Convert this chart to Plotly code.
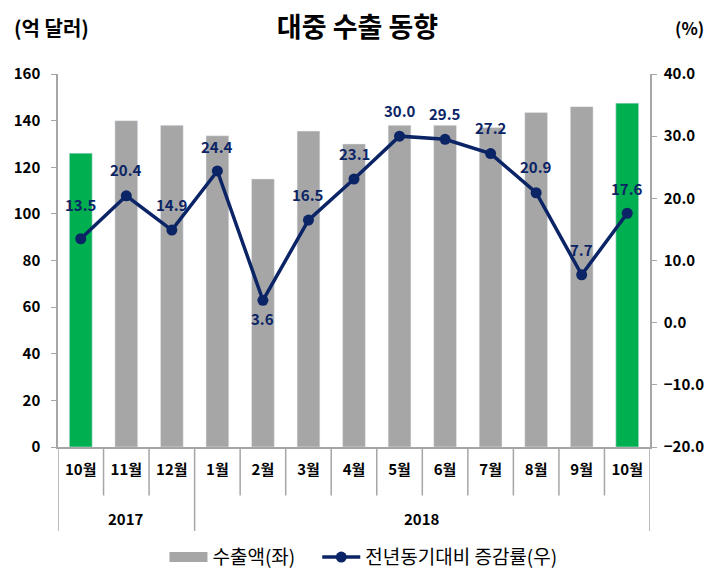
import plotly.graph_objects as go

years = ["2017", "2017", "2017", "2018", "2018", "2018", "2018", "2018", "2018", "2018", "2018", "2018", "2018"]
months = ["10월", "11월", "12월", "1월", "2월", "3월", "4월", "5월", "6월", "7월", "8월", "9월", "10월"]
exports = [126, 140, 138, 133.5, 115, 135.5, 130, 138, 138, 137, 143.5, 146, 147.5]
growth = [13.5, 20.4, 14.9, 24.4, 3.6, 16.5, 23.1, 30.0, 29.5, 27.2, 20.9, 7.7, 17.6]
highlight = [True, False, False, False, False, False, False, False, False, False, False, False, True]
label_shift = [34, 26, 26, 24, -18, 26, 26, 26, 26, 26, 26, 25, 25]

FONT = "Noto Sans CJK KR"
GRAY = "#A6A6A6"
GREEN = "#00B050"
NAVY = "#0B2466"
AXIS = "#A6A6A6"

ids = [f"{y}-{m}" for y, m in zip(years, months)]
green_vals = [v if h else None for v, h in zip(exports, highlight)]

fig = go.Figure()
fig.add_trace(go.Bar(x=ids, y=exports, name="수출액(좌)", marker_color=GRAY,
                     width=0.5, showlegend=False))
fig.add_trace(go.Bar(x=ids, y=green_vals, name="highlight", marker_color=GREEN,
                     width=0.5, showlegend=False))
# legend proxy for the bar series (wide grey swatch)
fig.add_trace(go.Scatter(x=[None], y=[None], mode="lines", name="수출액(좌)\u00a0\u00a0\u00a0\u00a0",
                         line=dict(color=GRAY, width=10)))
fig.add_trace(go.Scatter(x=ids, y=growth, yaxis="y2", name="전년동기대비 증감률(우)",
                         mode="lines+markers",
                         line=dict(color=NAVY, width=3.5),
                         marker=dict(color=NAVY, size=11)))

annotations = []
for xi, v, s in zip(ids, growth, label_shift):
    annotations.append(dict(x=xi, y=v, xref="x", yref="y2", text=f"{v:.1f}",
                            showarrow=False, yshift=s,
                            font=dict(family=FONT, size=15, color=NAVY, weight="bold")))

# year group labels and dividers
shapes = []
n = len(ids)
for i in range(n + 1):
    is_group = i == 0 or i == n or years[i] != years[i - 1]
    shapes.append(dict(type="line", xref="x", yref="paper",
                       x0=i - 0.5, x1=i - 0.5, y0=0, y1=-0.225 if is_group else -0.13,
                       line=dict(color=AXIS, width=1.5)))
groups = []
for i, y in enumerate(years):
    if not groups or groups[-1][0] != y:
        groups.append([y, i, i])
    else:
        groups[-1][2] = i
for y, a, b in groups:
    annotations.append(dict(x=(a + b) / 2, y=-0.193, xref="x", yref="paper", text=y,
                            showarrow=False, yanchor="middle",
                            font=dict(family=FONT, size=15, color="black", weight="bold")))

annotations += [
    dict(text="(억 달러)", xref="paper", yref="paper", x=-0.077, y=1.126,
         xanchor="left", yanchor="middle", showarrow=False,
         font=dict(family=FONT, size=20, color="black", weight="bold")),
    dict(text="(%)", xref="paper", yref="paper", x=1.095, y=1.126,
         xanchor="right", yanchor="middle", showarrow=False,
         font=dict(family=FONT, size=17, color="black", weight="bold")),
]

fig.update_layout(
    width=715, height=581,
    margin=dict(l=58, r=65, t=74, b=134, autoexpand=False),
    plot_bgcolor="white", paper_bgcolor="white",
    barmode="overlay",
    font=dict(family=FONT, size=15, color="black"),
    title=dict(text="대중 수출 동향", x=0.5, xanchor="center", y=0.952, yanchor="middle",
               font=dict(family=FONT, size=27, color="black", weight="bold")),
    xaxis=dict(type="category", tickvals=ids, ticktext=months, automargin=False,
               range=[-0.5, n - 0.5],
               showline=True, linecolor=AXIS, linewidth=1.5, ticks="",
               ticklabelstandoff=8,
               tickfont=dict(family=FONT, size=15, color="black", weight="bold"),
               showgrid=False),
    yaxis=dict(range=[0, 160], dtick=20, showline=True, linecolor=AXIS, linewidth=1.5,
               automargin=False,
               ticks="outside", ticklen=5, tickcolor=AXIS, showgrid=False, zeroline=False,
               ticklabelstandoff=8,
               tickfont=dict(family=FONT, size=15, color="black", weight="bold")),
    yaxis2=dict(range=[-20, 40], dtick=10, overlaying="y", side="right", tickformat=".1f",
                automargin=False,
                showline=True, linecolor=AXIS, linewidth=1.5, ticks="outside", ticklen=5,
                tickcolor=AXIS, showgrid=False, zeroline=False, ticklabelstandoff=4,
                tickfont=dict(family=FONT, size=15, color="black", weight="bold")),
    legend=dict(orientation="h", x=0.516, xanchor="center",
                yref="container", y=0.041, yanchor="middle",
                itemwidth=38,
                font=dict(family=FONT, size=19, color="black")),
    annotations=annotations,
    shapes=shapes,
)

fig.write_html("out.html", config={"displayModeBar": False},
               post_script="document.body.style.margin='0';")
